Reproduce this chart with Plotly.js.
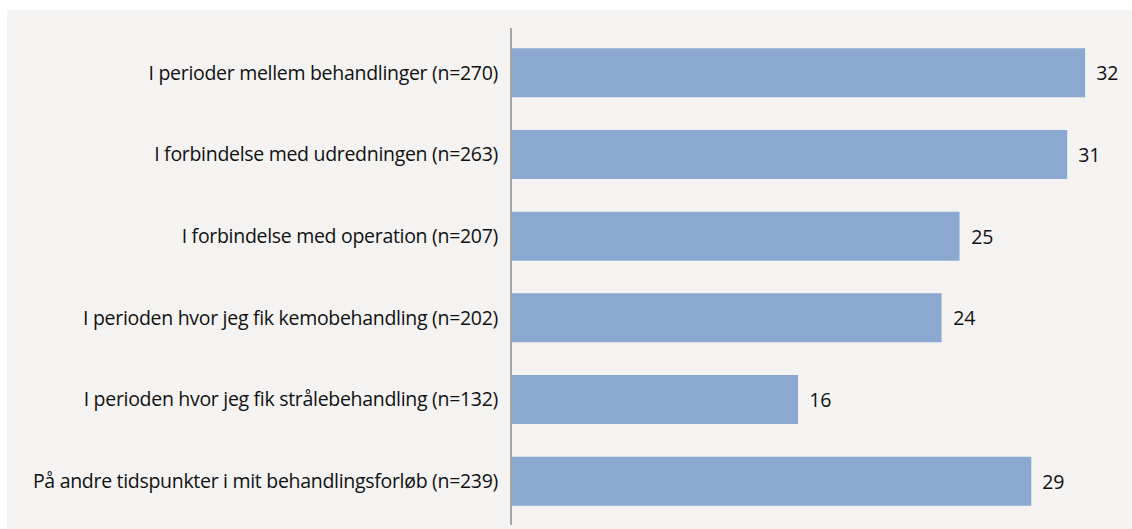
<!DOCTYPE html>
<html>
<head>
<meta charset="utf-8">
<script src="https://cdn.plot.ly/plotly-3.0.1.min.js"></script>
<style>
html,body{margin:0;padding:0;background:#fff;}
#chart{width:1132px;height:529px;}
#chart svg text{letter-spacing:-0.3px;}
</style>
</head>
<body>
<div id="chart"></div>
<script>
const categories = [
  "I perioder mellem behandlinger (n=270)",
  "I forbindelse med udredningen (n=263)",
  "I forbindelse med operation (n=207)",
  "I perioden hvor jeg fik kemobehandling (n=202)",
  "I perioden hvor jeg fik strålebehandling (n=132)",
  "På andre tidspunkter i mit behandlingsforløb (n=239)"
];
const values = [32, 31, 25, 24, 16, 29];

const FONT = 'Open Sans, sans-serif';
const FSIZE = 19.5;

const trace = {
  type: 'bar',
  orientation: 'h',
  y: categories,
  x: values,
  marker: {color: '#8aa8d0'},
  hoverinfo: 'x+y'
};

const annotations = values.map((v, i) => ({
  x: v, y: categories[i], xref: 'x', yref: 'y',
  text: String(v), showarrow: false, xanchor: 'left', xshift: 9,
  font: {family: FONT, size: FSIZE, color: '#111111'}
}));

const layout = {
  width: 1132, height: 529,
  margin: {l: 511, r: 11, t: 32, b: 7, pad: 0},
  paper_bgcolor: '#ffffff',
  plot_bgcolor: 'rgba(0,0,0,0)',
  bargap: 0.4,
  showlegend: false,
  font: {family: FONT, size: FSIZE, color: '#111111'},
  xaxis: {range: [0, 34], showgrid: false, zeroline: false, showticklabels: false, showline: false, fixedrange: true},
  yaxis: {autorange: 'reversed', showgrid: false, zeroline: false, showline: false, ticks: '', ticklabelstandoff: 12,
          tickfont: {family: FONT, size: FSIZE, color: '#111111'}, fixedrange: true},
  shapes: [
    {type: 'rect', xref: 'paper', yref: 'paper', x0: -0.826, x1: 1.02, y0: -0.02, y1: 1.045,
     fillcolor: '#f4f3f1', line: {width: 0}, layer: 'below'},
    {type: 'line', xref: 'paper', yref: 'paper', x0: 0, x1: 0, y0: -0.006, y1: 1.008,
     line: {color: '#a6a6a6', width: 2}}
  ],
  annotations: annotations
};

Plotly.newPlot('chart', [trace], layout, {displayModeBar: false});
</script>
</body>
</html>
